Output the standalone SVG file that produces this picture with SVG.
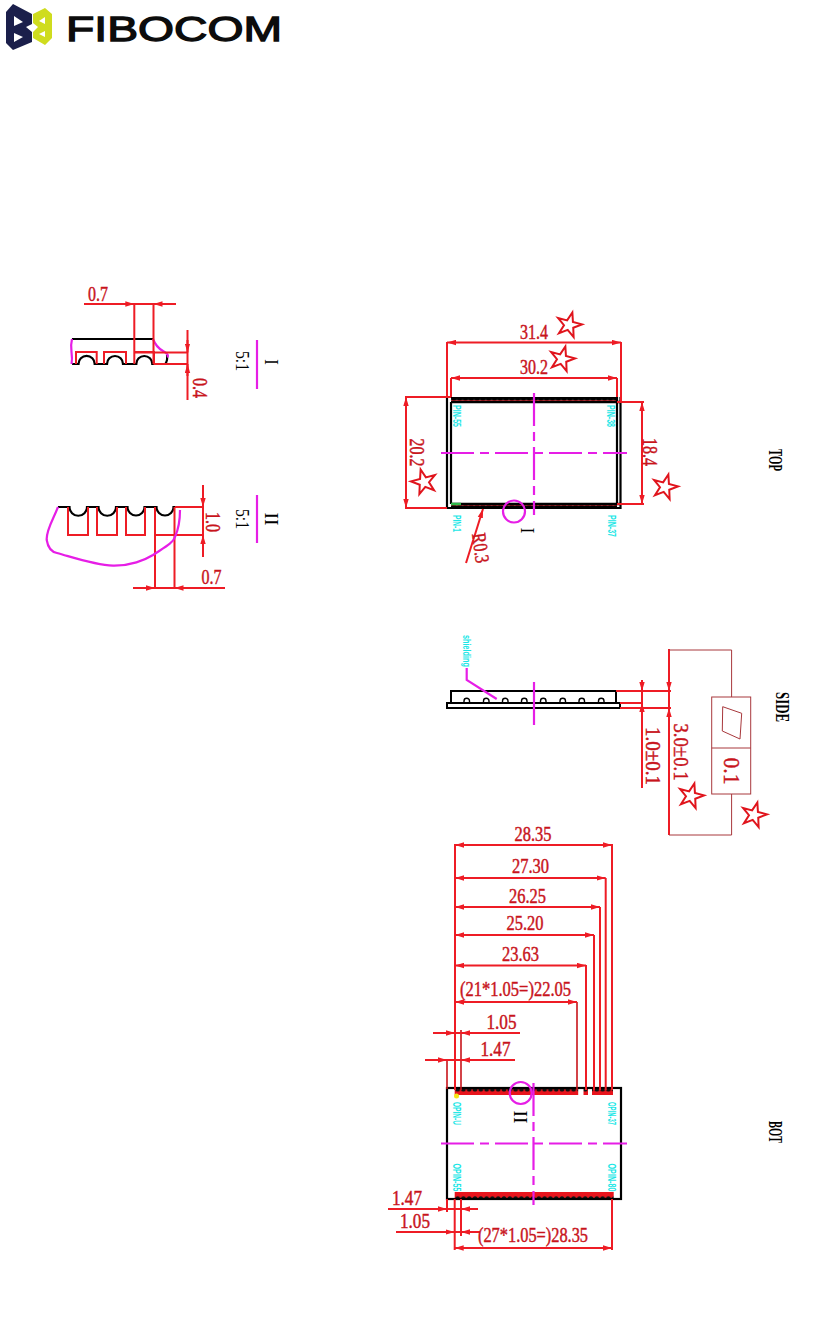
<svg xmlns="http://www.w3.org/2000/svg" width="836" height="1332" viewBox="0 0 836 1332">
<style>
.d{stroke:#ee1c25;stroke-width:2;fill:none}
.k{stroke:#000;stroke-width:2.200;fill:none}
.m{stroke:#e61ee6;stroke-width:2.200;fill:none}
.b{stroke:#a8383c;stroke-width:1;fill:none}
text{font-family:"Liberation Serif",serif;text-anchor:middle;dominant-baseline:central}
.r{fill:#c8141c;font-size:20px;stroke:#c8141c;stroke-width:.45}
.n{fill:#000;font-size:18px}
.c{fill:#19e6e6;font-size:10px;font-family:"Liberation Sans",sans-serif;font-weight:bold}
</style>
<defs>
<marker id="a" markerWidth="10" markerHeight="6" refX="9" refY="3" orient="auto-start-reverse" markerUnits="userSpaceOnUse"><path d="M0 .3L9 3L0 5.700Z" fill="#ee1c25"/></marker>
<polygon id="star" points="0,-13 3,-4 12.4,-4 4.8,1.5 7.6,10.5 0,5 -7.6,10.5 -4.8,1.5 -12.4,-4 -3,-4" fill="#fff" stroke="#e0141c" stroke-width="2"/>
<pattern id="sTop" width="5.8" height="5" patternUnits="userSpaceOnUse" x="451" y="397"><rect width="5.8" height="1" fill="#000"/><path d="M0 0.500A2.900 2.900 0 0 0 5.800 0.500" fill="#000" stroke="#000" stroke-width="1"/><path d="M0 3.800H5.800" stroke="#d4141c" stroke-width="1.200"/></pattern>
<pattern id="sBot" width="5.8" height="4" patternUnits="userSpaceOnUse" x="451" y="504"><path d="M0 4A2.900 2.900 0 0 1 5.800 4" fill="#000" stroke="#000" stroke-width="1"/><path d="M0 1H5.800" stroke="#d4141c" stroke-width="1.200"/></pattern>
<pattern id="pT" width="5.8" height="6" patternUnits="userSpaceOnUse" x="454.7" y="1089"><rect width="5.8" height="6" fill="#e8141c"/><path d="M.5 0A2.400 2.600 0 0 0 5.300 0" fill="#111"/></pattern>
<pattern id="pB" width="5.8" height="7" patternUnits="userSpaceOnUse" x="454.7" y="1192"><rect width="5.8" height="7" fill="#e8141c"/><path d="M.5 7A2.400 2.800 0 0 1 5.300 7" fill="#111"/></pattern>
</defs>

<g id="logo">
<path fill="#1b1f4b" fill-rule="evenodd" d="M6 12L13 4L32 14V24L26 27L32 32V42L13 50L6 43ZM14 16V26L23 22ZM14 33V42L23 37Z"/>
<path fill="#cfdc1e" fill-rule="evenodd" d="M33 14L45 8L52 14V38L45 45L33 38V32L38 27L33 23ZM45 17L39 21L45 24ZM45 31L39 34L45 37Z"/>
<text x="174" y="28" textLength="216" lengthAdjust="spacingAndGlyphs" style="font-family:'Liberation Sans',sans-serif;font-size:35px;fill:#0c0c0c;stroke:#0c0c0c;stroke-width:1.300">FIBOCOM</text>
</g>

<g id="detail-I">
<path class="k" d="M72 339H153"/>
<path class="k" d="M72 364H78.500A8 8 0 0 1 94.700 364H107A8 8 0 0 1 123 364H136.300A8 8 0 0 1 152.300 364H164"/>
<path class="k" d="M165 364.500Q168 360 167 355"/>
<path class="d" d="M76 364V352H96.700V364M104 364V352H126V364M134.300 352H154V364"/>
<path class="m" d="M72 339Q70.500 345 71.500 352T71.500 364M153 339Q156 347 163 351T167 357"/>
<path class="d" d="M134.300 304V364M153.500 304V364M134.300 352.500H188M153.500 364H188"/>
<path class="d" d="M84 304H176"/>
<line class="d" x1="122" y1="304" x2="134.300" y2="304" marker-end="url(#a)"/>
<line class="d" x1="166" y1="304" x2="153.500" y2="304" marker-end="url(#a)"/>
<path class="d" d="M187.500 330V400"/>
<line class="d" x1="187.500" y1="340" x2="187.500" y2="352.500" marker-end="url(#a)"/>
<line class="d" x1="187.500" y1="376" x2="187.500" y2="364" marker-end="url(#a)"/>
<line class="m" x1="257" y1="340" x2="257" y2="389"/>
</g>
<text class="r" x="98" y="294" textLength="20" lengthAdjust="spacingAndGlyphs">0.7</text>
<text class="r" transform="translate(200,388) rotate(90)" textLength="20" lengthAdjust="spacingAndGlyphs">0.4</text>
<text class="n" transform="translate(271,362) rotate(90)">I</text>
<text class="n" transform="translate(242,361) rotate(90)" textLength="20" lengthAdjust="spacingAndGlyphs">5:1</text>

<g id="detail-II">
<path class="k" d="M58 507H69.500A8.500 8.500 0 0 0 87 507H98.500A8.500 8.500 0 0 0 116 507H127.500A8.500 8.500 0 0 0 144.500 507H156.500A8.500 8.500 0 0 0 173.500 507H175"/>
<path class="d" d="M68 507V535H88V507M97 507V535H117V507M126 507V535H145V507"/>
<path class="d" d="M155 507V588M174.500 507V588M155 535H204M175 507H204"/>
<path class="m" d="M58 507C53 520 46 530 46.700 540C48 548 52 552 57 553C75 558 95 565 113 565.700C130 566 145 560 153 555C165 547 173 543 175 537C179 528 180 518 180 510"/>
<path class="d" d="M133 588H225"/>
<line class="d" x1="143" y1="588" x2="155" y2="588" marker-end="url(#a)"/>
<line class="d" x1="187" y1="588" x2="174.500" y2="588" marker-end="url(#a)"/>
<path class="d" d="M203 485V557"/>
<line class="d" x1="203" y1="495" x2="203" y2="507" marker-end="url(#a)"/>
<line class="d" x1="203" y1="547" x2="203" y2="535" marker-end="url(#a)"/>
<line class="m" x1="257" y1="495" x2="257" y2="543"/>
</g>
<text class="r" x="211.500" y="577" textLength="20" lengthAdjust="spacingAndGlyphs">0.7</text>
<text class="r" transform="translate(213,522) rotate(90)" textLength="20" lengthAdjust="spacingAndGlyphs">1.0</text>
<text class="n" transform="translate(271,519) rotate(90)" textLength="13" lengthAdjust="spacingAndGlyphs">II</text>
<text class="n" transform="translate(242,519) rotate(90)" textLength="20" lengthAdjust="spacingAndGlyphs">5:1</text>

<g id="top-view">
<rect x="451" y="397" width="166" height="5" fill="url(#sTop)"/>
<rect x="451" y="504" width="166" height="4" fill="url(#sBot)"/>
<path class="k" d="M447 397V508H620.500V397M451 402V504M617 397V504"/>
<path d="M451 402H620.500M451 504H620.500" stroke="#000" stroke-width="2.400"/>
<path d="M451 504H461" stroke="#2fb84a" stroke-width="2.500"/>
<path class="d" d="M447 342V397M621 342V402M451 378V397M617 378V397M405 397H451M405 508H447M617 402H644M617 504H644"/>
<line class="d" x1="447" y1="342.500" x2="621" y2="342.500" marker-start="url(#a)" marker-end="url(#a)"/>
<line class="d" x1="451" y1="378" x2="617" y2="378" marker-start="url(#a)" marker-end="url(#a)"/>
<line class="d" x1="406" y1="397" x2="406" y2="508" marker-start="url(#a)" marker-end="url(#a)"/>
<line class="d" x1="642" y1="402" x2="642" y2="504" marker-start="url(#a)" marker-end="url(#a)"/>
<line class="d" x1="466" y1="563" x2="483" y2="509" marker-end="url(#a)"/>
<path class="m" stroke-dasharray="33 6 9 6" d="M534 393V515"/>
<path class="m" stroke-dasharray="33 6 9 6" d="M441 453H627"/>
<circle class="m" cx="514" cy="511.500" r="11"/>
</g>
<text class="r" x="534" y="331.500" textLength="28" lengthAdjust="spacingAndGlyphs">31.4</text>
<text class="r" x="534" y="367" textLength="28" lengthAdjust="spacingAndGlyphs">30.2</text>
<text class="r" transform="translate(417,452.500) rotate(90)" textLength="28" lengthAdjust="spacingAndGlyphs">20.2</text>
<text class="r" transform="translate(650,452) rotate(90)" textLength="28" lengthAdjust="spacingAndGlyphs">18.4</text>
<text class="r" transform="translate(481,548) rotate(82)" textLength="30" lengthAdjust="spacingAndGlyphs">R0.3</text>
<text class="n" transform="translate(527,530.500) rotate(90)">I</text>
<text class="c" transform="translate(456.500,416) rotate(90)" textLength="22" lengthAdjust="spacingAndGlyphs">PIN-55</text>
<text class="c" transform="translate(610.500,416) rotate(90)" textLength="22" lengthAdjust="spacingAndGlyphs">PIN-38</text>
<text class="c" transform="translate(456,523.500) rotate(90)" textLength="17" lengthAdjust="spacingAndGlyphs">PIN-1</text>
<text class="c" transform="translate(611,526) rotate(90)" textLength="22" lengthAdjust="spacingAndGlyphs">PIN-37</text>
<text class="n" transform="translate(775,460) rotate(90)" textLength="22" lengthAdjust="spacingAndGlyphs" style="font-weight:bold">TOP</text>
<use href="#star" transform="translate(569,325) rotate(15)"/>
<use href="#star" transform="translate(562,359) rotate(15)"/>
<use href="#star" transform="translate(424,482) rotate(-15)"/>
<use href="#star" transform="translate(665,487) rotate(15)"/>

<g id="side-view">
<rect x="451" y="691" width="165" height="12" fill="none" stroke="#000" stroke-width="2"/>
<rect x="447" y="703" width="173" height="5" fill="none" stroke="#000" stroke-width="2"/>
<path fill="none" stroke="#000" stroke-width="1.400" d="M464 703V701A2.700 2.700 0 0 1 469.500 701V703M483.500 703V701A2.700 2.700 0 0 1 489 701V703M502.500 703V701A2.700 2.700 0 0 1 508 701V703M521.500 703V701A2.700 2.700 0 0 1 527 701V703M540.500 703V701A2.700 2.700 0 0 1 546 701V703M560 703V701A2.700 2.700 0 0 1 565.500 701V703M579 703V701A2.700 2.700 0 0 1 584.500 701V703M598.500 703V701A2.700 2.700 0 0 1 604 701V703"/>
<line class="m" x1="534" y1="682" x2="534" y2="725"/>
<path class="m" d="M466.700 668V680L496.700 699"/>
<path class="d" d="M616 691H671M620 708H671M620 703H643"/>
<path class="d" d="M642 680V788M669 649V835"/>
<line class="d" x1="642" y1="680" x2="642" y2="691" marker-end="url(#a)"/>
<line class="d" x1="642" y1="718" x2="642" y2="703" marker-end="url(#a)"/>
<line class="d" x1="669" y1="675" x2="669" y2="691" marker-end="url(#a)"/>
<line class="d" x1="669" y1="722" x2="669" y2="708" marker-end="url(#a)"/>
<path class="b" d="M669 650H731.600V697M731.600 794V835H669"/>
<rect class="b" x="711.700" y="697" width="39" height="97"/>
<path class="b" d="M711.700 748H750.700M722.700 706.700L741.700 713.300L740 739L722.300 731Z"/>
</g>
<text class="c" transform="translate(466.500,651) rotate(90)" textLength="32" lengthAdjust="spacingAndGlyphs">shielding</text>
<text class="r" transform="translate(653,756) rotate(90)" textLength="58" lengthAdjust="spacingAndGlyphs">1.0±0.1</text>
<text class="r" transform="translate(681,752) rotate(90)" textLength="57" lengthAdjust="spacingAndGlyphs">3.0±0.1</text>
<text class="r" transform="translate(731.500,771) rotate(90)" textLength="27" lengthAdjust="spacingAndGlyphs" style="font-size:24px">0.1</text>
<text class="n" transform="translate(782,707) rotate(90)" textLength="30" lengthAdjust="spacingAndGlyphs" style="font-weight:bold">SIDE</text>
<use href="#star" transform="translate(691,796) rotate(15)"/>
<use href="#star" transform="translate(754,815) rotate(15)"/>

<g id="bot-view">
<rect x="454.700" y="1089" width="123.500" height="6" fill="url(#pT)"/>
<rect x="583.500" y="1089" width="4.500" height="6" fill="url(#pT)"/>
<rect x="592" y="1089" width="21" height="6" fill="url(#pT)"/>
<rect x="454.700" y="1192" width="159" height="7" fill="url(#pB)"/>
<rect x="447" y="1088" width="174" height="111" fill="none" stroke="#000" stroke-width="2.200"/>
<circle cx="456.500" cy="1096" r="2.500" fill="#f5e616"/>
<path class="m" stroke-dasharray="33 6 9 6" d="M533.500 1083V1205"/>
<path class="m" stroke-dasharray="33 6 9 6" d="M441 1143.500H627"/>
<circle class="m" cx="520.700" cy="1093" r="11"/>
<path class="d" d="M455 844V1090M612 844V1090M605.700 878V1090M600 907V1090M594 935V1090M586 965V1090"/>
<path d="M577 1002V1090M461 1030V1090M447 1060V1089" stroke="#c8141c" stroke-width="1.600" fill="none"/>
<line class="d" x1="455" y1="845" x2="612" y2="845" marker-start="url(#a)" marker-end="url(#a)"/>
<line class="d" x1="455" y1="878" x2="605.700" y2="878" marker-start="url(#a)" marker-end="url(#a)"/>
<line class="d" x1="455" y1="907" x2="600" y2="907" marker-start="url(#a)" marker-end="url(#a)"/>
<line class="d" x1="455" y1="935" x2="594" y2="935" marker-start="url(#a)" marker-end="url(#a)"/>
<line class="d" x1="455" y1="965.500" x2="586" y2="965.500" marker-start="url(#a)" marker-end="url(#a)"/>
<line class="d" x1="455" y1="1002" x2="577" y2="1002" marker-start="url(#a)" marker-end="url(#a)"/>
<path class="d" d="M433 1033H520M425 1060H515"/>
<line class="d" x1="443" y1="1033" x2="455" y2="1033" marker-end="url(#a)"/>
<line class="d" x1="473" y1="1033" x2="461" y2="1033" marker-end="url(#a)"/>
<line class="d" x1="435" y1="1060" x2="447" y2="1060" marker-end="url(#a)"/>
<line class="d" x1="473" y1="1060" x2="461" y2="1060" marker-end="url(#a)"/>
<path class="d" d="M447 1199V1212M454.700 1199V1250M461 1199V1236M612 1199V1250"/>
<path class="d" d="M388 1209H478M396 1232H480"/>
<line class="d" x1="435" y1="1209" x2="447" y2="1209" marker-end="url(#a)"/>
<line class="d" x1="473" y1="1209" x2="461" y2="1209" marker-end="url(#a)"/>
<line class="d" x1="442" y1="1232" x2="454.700" y2="1232" marker-end="url(#a)"/>
<line class="d" x1="473" y1="1232" x2="461" y2="1232" marker-end="url(#a)"/>
<line class="d" x1="454.700" y1="1248" x2="612" y2="1248" marker-start="url(#a)" marker-end="url(#a)"/>
</g>
<text class="r" x="533" y="834" textLength="37" lengthAdjust="spacingAndGlyphs">28.35</text>
<text class="r" x="530.500" y="866" textLength="37" lengthAdjust="spacingAndGlyphs">27.30</text>
<text class="r" x="527.500" y="896" textLength="37" lengthAdjust="spacingAndGlyphs">26.25</text>
<text class="r" x="525" y="923" textLength="37" lengthAdjust="spacingAndGlyphs">25.20</text>
<text class="r" x="520.500" y="954" textLength="37" lengthAdjust="spacingAndGlyphs">23.63</text>
<text class="r" x="515.500" y="989" textLength="111" lengthAdjust="spacingAndGlyphs">(21*1.05=)22.05</text>
<text class="r" x="501.500" y="1022" textLength="30" lengthAdjust="spacingAndGlyphs">1.05</text>
<text class="r" x="495.500" y="1049" textLength="30" lengthAdjust="spacingAndGlyphs">1.47</text>
<text class="r" x="407" y="1198" textLength="30" lengthAdjust="spacingAndGlyphs">1.47</text>
<text class="r" x="415" y="1221" textLength="30" lengthAdjust="spacingAndGlyphs">1.05</text>
<text class="r" x="533" y="1235" textLength="110" lengthAdjust="spacingAndGlyphs">(27*1.05=)28.35</text>
<text class="n" transform="translate(520,1117) rotate(90)" textLength="13" lengthAdjust="spacingAndGlyphs">II</text>
<text class="c" transform="translate(456,1113.500) rotate(90)" textLength="23" lengthAdjust="spacingAndGlyphs">OPIN-U</text>
<text class="c" transform="translate(611,1113.500) rotate(90)" textLength="23" lengthAdjust="spacingAndGlyphs">OPIN-37</text>
<text class="c" transform="translate(456,1177.500) rotate(90)" textLength="28" lengthAdjust="spacingAndGlyphs">OPIN-55</text>
<text class="c" transform="translate(611,1177.500) rotate(90)" textLength="28" lengthAdjust="spacingAndGlyphs">OPIN-80</text>
<text class="n" transform="translate(775,1132) rotate(90)" textLength="22" lengthAdjust="spacingAndGlyphs" style="font-weight:bold">BOT</text>
</svg>
